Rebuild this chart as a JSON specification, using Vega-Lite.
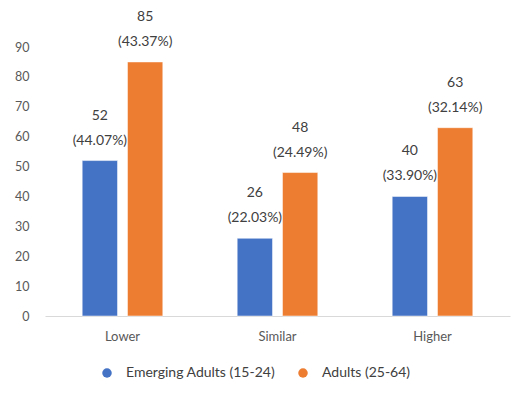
{
  "$schema": "https://vega.github.io/schema/vega-lite/v6.json",
  "width": 465,
  "height": 269,
  "autosize": "none",
  "padding": {"left": 45, "top": 47, "right": 8, "bottom": 86},
  "background": "white",
  "config": {
    "view": {"stroke": null},
    "font": "Lato",
    "axis": {"labelFont": "Lato", "labelColor": "#595959", "labelFontSize": 13},
    "legend": {"labelFont": "Lato", "labelFontSize": 14, "labelColor": "#404040"}
  },
  "data": {
    "values": [
      {"category": "Lower", "group": "Emerging Adults (15-24)", "value": 52, "label": "52\n(44.07%)"},
      {"category": "Lower", "group": "Adults (25-64)", "value": 85, "label": "85\n(43.37%)"},
      {"category": "Similar", "group": "Emerging Adults (15-24)", "value": 26, "label": "26\n(22.03%)"},
      {"category": "Similar", "group": "Adults (25-64)", "value": 48, "label": "48\n(24.49%)"},
      {"category": "Higher", "group": "Emerging Adults (15-24)", "value": 40, "label": "40\n(33.90%)"},
      {"category": "Higher", "group": "Adults (25-64)", "value": 63, "label": "63\n(32.14%)"}
    ]
  },
  "encoding": {
    "x": {
      "field": "category", "type": "nominal", "sort": ["Lower", "Similar", "Higher"],
      "scale": {"paddingInner": 0.48, "paddingOuter": 0.24},
      "axis": {"title": null, "labelAngle": 0, "ticks": false, "domainColor": "#d9d9d9", "domainWidth": 1, "labelPadding": 14}
    },
    "xOffset": {
      "field": "group", "type": "nominal", "sort": ["Emerging Adults (15-24)", "Adults (25-64)"],
      "scale": {"paddingInner": 0.22, "paddingOuter": 0}
    },
    "y": {
      "field": "value", "type": "quantitative",
      "scale": {"domain": [0, 90], "nice": false},
      "axis": {"title": null, "values": [0,10,20,30,40,50,60,70,80,90], "grid": false, "domain": false, "ticks": false, "labelPadding": 16, "labelFontSize": 12.5}
    }
  },
  "layer": [
    {
      "mark": {"type": "bar", "stroke": "white", "strokeWidth": 0.5},
      "encoding": {
        "color": {
          "field": "group", "type": "nominal", "sort": ["Emerging Adults (15-24)", "Adults (25-64)"],
          "scale": {"range": ["#4472C4", "#ED7D31"]},
          "legend": {"title": null, "orient": "none", "direction": "horizontal", "legendX": 55, "legendY": 319, "symbolType": "circle", "symbolSize": 90, "symbolStrokeWidth": 0, "columnPadding": 20, "labelOffset": 12}
        }
      }
    },
    {
      "mark": {"type": "text", "lineBreak": "\n", "lineHeight": 25, "baseline": "bottom", "dy": -38, "fontSize": 14, "color": "#404040", "font": "Lato"},
      "encoding": {"text": {"field": "label", "type": "nominal"}}
    }
  ]
}
